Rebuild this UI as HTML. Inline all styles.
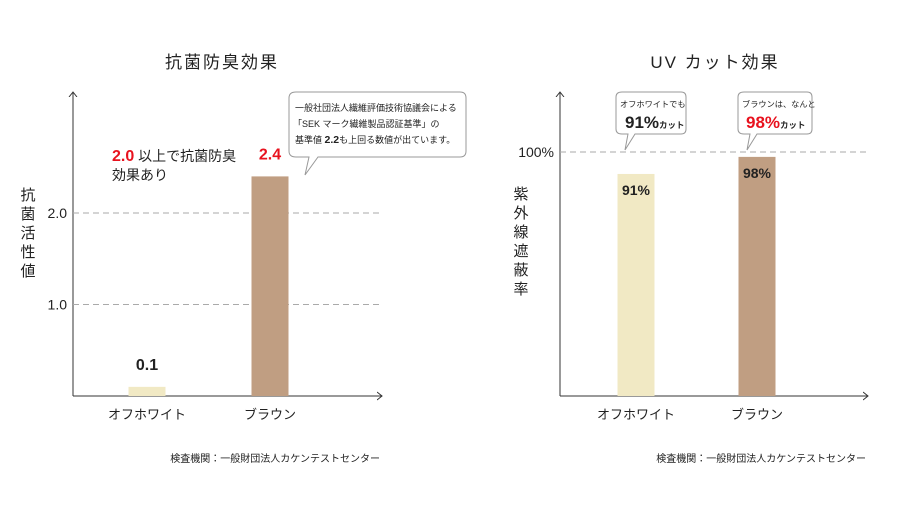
<!DOCTYPE html>
<html><head><meta charset="utf-8"><style>
body{margin:0;background:#fff;}
svg text{font-family:"Liberation Sans","Noto Sans CJK JP",sans-serif;}
</style></head><body>
<svg id="c" width="900" height="500" viewBox="0 0 900 500" xmlns="http://www.w3.org/2000/svg">
<defs><marker id="ar" markerWidth="10" markerHeight="10" refX="5" refY="5" orient="auto"><path d="M0,1 L5,5 L0,9" fill="none" stroke="#333" stroke-width="1"/></marker></defs>
<text x="222" y="68" font-size="17" text-anchor="middle" fill="#222" letter-spacing="2">抗菌防臭効果</text>
<text x="715" y="68" font-size="17" text-anchor="middle" fill="#222" letter-spacing="2">UV カット効果</text>
<g id="left"></g><g id="right"></g>
<g font-size="15" fill="#222" text-anchor="middle">
<text x="28" y="200">抗</text><text x="28" y="219">菌</text><text x="28" y="238">活</text><text x="28" y="257">性</text><text x="28" y="276">値</text></g>
<g font-size="15" fill="#222" text-anchor="middle">
<text x="521" y="199">紫</text><text x="521" y="218">外</text><text x="521" y="237">線</text><text x="521" y="256">遮</text><text x="521" y="275">蔽</text><text x="521" y="294">率</text></g>
<text x="112" y="161" font-size="14" fill="#222"><tspan fill="#e8121e" font-size="16" font-weight="bold">2.0</tspan> 以上で抗菌防臭</text>
<text x="112" y="180" font-size="14" fill="#222">効果あり</text>
<g>
<path d="M296,92 H460 Q466,92 466,98 V151 Q466,157 460,157 H318 L305,175 L309,157 H296 Q289,157 289,151 V98 Q289,92 296,92 Z" fill="#fff" stroke="#999"/>
<text x="295" y="111" font-size="9" fill="#222">一般社団法人繊維評価技術協議会による</text>
<text x="293" y="127" font-size="9" fill="#222">「SEK マーク繊維製品認証基準」の</text>
<text x="295" y="143" font-size="9" fill="#222">基準値 <tspan font-weight="bold" font-size="10.5">2.2</tspan>も上回る数値が出ています。</text></g>
<g>
<path d="M622,92 H681 Q686,92 686,97 V129 Q686,134 681,134 H635 L625,150 L628,134 H622 Q616,134 616,129 V97 Q616,92 622,92 Z" fill="#fff" stroke="#999"/>
<text x="620" y="107" font-size="8.2" fill="#222">オフホワイトでも</text>
<text x="625" y="128" font-size="17" font-weight="bold" fill="#222">91%<tspan font-size="8.5">カット</tspan></text></g>
<g>
<path d="M744,92 H807 Q812,92 812,97 V129 Q812,134 807,134 H757 L747,150 L750,134 H744 Q738,134 738,129 V97 Q738,92 744,92 Z" fill="#fff" stroke="#999"/>
<text x="742" y="107" font-size="8.2" fill="#222">ブラウンは、なんと</text>
<text x="746" y="128" font-size="17" font-weight="bold" fill="#e8121e">98%<tspan font-size="8.5" fill="#222">カット</tspan></text></g>
<text x="380" y="462" font-size="10" fill="#222" text-anchor="end">検査機関：一般財団法人カケンテストセンター</text>
<text x="866" y="462" font-size="10" fill="#222" text-anchor="end">検査機関：一般財団法人カケンテストセンター</text>
</svg>
<script>
const leftCategories=["オフホワイト","ブラウン"];
const leftValues=[0.1,2.4];
const leftTicks=[1.0,2.0];
const leftTickLabels=["1.0","2.0"];
const rightCategories=["オフホワイト","ブラウン"];
const rightValues=[91,98];
const rightTicks=[100];
const rightTickLabels=["100%"];
const colors=["#f1e9c4","#c09e82"];
const NS="http://www.w3.org/2000/svg";
function mk(p,t,a){const e=document.createElementNS(NS,t);for(const k in a)e.setAttribute(k,a[k]);p.appendChild(e);return e;}
function draw(g,cfg){
  const y=v=>cfg.base-v*cfg.scale;
  const ax=mk(g,'path',{d:`M${cfg.x0},${cfg.base} V${cfg.top}`,stroke:'#333',fill:'none','marker-end':'url(#ar)'});
  
  
  const xa=mk(g,'path',{d:`M${cfg.x0},${cfg.base} H${cfg.x1}`,stroke:'#333',fill:'none','marker-end':'url(#ar)'});
  
  
  cfg.ticks.forEach((t,i)=>{
    const gl=mk(g,'line',{x1:cfg.x0,x2:cfg.x1,y1:y(t),y2:y(t),stroke:'#aaa','stroke-dasharray':'6,4'});
    
    
    const tl=mk(g,'text',{x:cfg.x0-6,y:y(t)+5,'font-size':14,'text-anchor':'end',fill:'#222'});
    tl.textContent=cfg.tickLabels[i];
    
    
  });
  cfg.values.forEach((v,i)=>{
    const cx=cfg.cx[i];
    const b=mk(g,'rect',{x:cx-18.5,y:y(v),width:37,height:cfg.base-y(v),fill:colors[i]});
    
    
    const cl=mk(g,'text',{x:cx,y:cfg.base+23,'font-size':13,'text-anchor':'middle',fill:'#222'});
    cl.textContent=cfg.cats[i];
    
    
    const vl=mk(g,'text',cfg.inside?{x:cx,y:y(v)+21,'font-size':14,'font-weight':'bold','text-anchor':'middle',fill:'#222'}:{x:cx,y:y(v)-17,'font-size':16,'font-weight':'bold','text-anchor':'middle',fill:i==1?'#e8121e':'#222'});
    vl.textContent=cfg.fmt(v);
    
    
  });
}
draw(document.getElementById('left'),{p:'left',x0:73,x1:382,top:92,base:396,scale:91.5,ticks:leftTicks,tickLabels:leftTickLabels,values:leftValues,cats:leftCategories,cx:[147,270],inside:false,fmt:v=>v.toFixed(1)});
draw(document.getElementById('right'),{p:'right',x0:560,x1:868,top:92,base:396,scale:2.44,ticks:rightTicks,tickLabels:rightTickLabels,values:rightValues,cats:rightCategories,cx:[636,757],inside:true,fmt:v=>v+'%'});
</script>
</body></html>
